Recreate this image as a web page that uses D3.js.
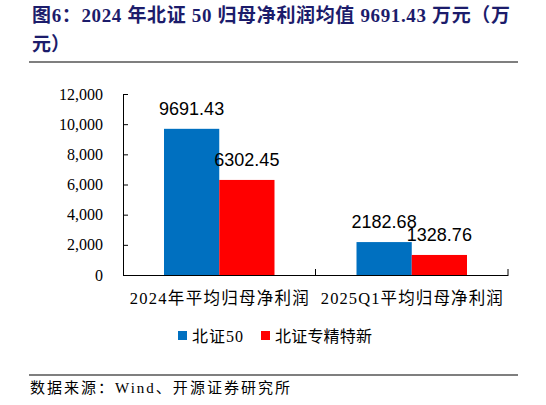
<!DOCTYPE html>
<html>
<head>
<meta charset="utf-8">
<script src="https://cdn.jsdelivr.net/npm/d3@7"></script>
<style>
  body { margin: 0; background: #fff; }
  svg { display: block; }
  .serif { font-family: "Liberation Serif", "Times New Roman", "Noto Sans CJK SC", serif; }
  .sans { font-family: "Liberation Sans", Calibri, "Noto Sans", sans-serif; }
</style>
</head>
<body>
<svg width="546" height="405"></svg>
<script>
var categories = ["2024年平均归母净利润", "2025Q1平均归母净利润"];
var seriesNames = ["北证50", "北证专精特新"];
var bz50 = [9691.43, 2182.68];
var zjtx = [6302.45, 1328.76];
var yTicks = [0, 2000, 4000, 6000, 8000, 10000, 12000];
var colors = ["#0070C0", "#FF0000"];

var svg = d3.select("svg");

// title
var title = svg.append("g").attr("class", "serif")
    .attr("fill", "#1c1c6b")
    .attr("font-weight", "bold")
    .attr("font-size", 19);
title.append("text").attr("x", 32).attr("y", 22)
    .attr("textLength", 478).attr("lengthAdjust", "spacing")
    .text("图6：2024 年北证 50 归母净利润均值 9691.43 万元（万");
title.append("text").attr("x", 32).attr("y", 51)
    .text("元）");

svg.append("line")
    .attr("x1", 29).attr("x2", 518)
    .attr("y1", 62).attr("y2", 62)
    .attr("stroke", "#000").attr("stroke-width", 1.2);

var x0 = d3.scaleBand().domain(categories).range([123, 508]).padding(0);
var x1 = d3.scaleBand().domain(seriesNames)
    .range([x0.bandwidth() * 0.213, x0.bandwidth() * 0.787]).padding(0);
var y = d3.scaleLinear().domain([0, 12000]).range([275, 94]);

// y axis
var yAxis = svg.append("g")
    .attr("transform", "translate(123,0)")
    .call(d3.axisLeft(y).tickValues(yTicks).tickSizeInner(-5).tickSizeOuter(0)
        .tickPadding(20).tickFormat(d3.format(",")));
yAxis.select(".domain").attr("stroke", "#000");
yAxis.selectAll(".tick line").attr("stroke", "#000");
yAxis.selectAll("text").attr("class", "serif")
    .attr("font-size", 16).attr("fill", "#000");

// x axis
var catWidths = [179, 182];
var xAxis = svg.append("g")
    .attr("transform", "translate(0,275)")
    .call(d3.axisBottom(x0).tickSize(0).tickPadding(17));
xAxis.select(".domain").attr("stroke", "#000");
xAxis.selectAll("text").attr("class", "serif")
    .attr("font-size", 16.5).attr("fill", "#000")
    .attr("textLength", (d, i) => catWidths[i]).attr("lengthAdjust", "spacing");
var bounds = [x0.range()[0] + x0.bandwidth(), x0.range()[1]];
xAxis.selectAll(".cat-tick").data(bounds).enter().append("line")
    .attr("x1", d => d).attr("x2", d => d)
    .attr("y1", 0).attr("y2", -6)
    .attr("stroke", "#000");

// bars
var rows = categories.map((c, i) => ({ cat: c, vals: [bz50[i], zjtx[i]] }));
var groups = svg.append("g").selectAll("g").data(rows).enter().append("g")
    .attr("transform", d => "translate(" + x0(d.cat) + ",0)");

groups.selectAll("rect")
    .data(d => d.vals.map((v, j) => ({ name: seriesNames[j], v: v, j: j })))
    .enter().append("rect")
    .attr("x", d => x1(d.name))
    .attr("width", x1.bandwidth())
    .attr("y", d => y(d.v))
    .attr("height", d => y(0) - y(d.v))
    .attr("fill", d => colors[d.j]);

groups.selectAll("text.val")
    .data(d => d.vals.map((v, j) => ({ name: seriesNames[j], v: v, j: j })))
    .enter().append("text")
    .attr("class", "sans")
    .attr("x", d => x1(d.name) + x1.bandwidth() / 2)
    .attr("y", d => y(d.v) - 14)
    .attr("text-anchor", "middle")
    .attr("font-size", 18)
    .attr("fill", "#000")
    .text(d => d.v.toFixed(2));

// legend
var legendX = [178, 261];
var legendW = [51, 97];
var legend = svg.append("g").selectAll("g").data(seriesNames).enter().append("g")
    .attr("transform", (d, i) => "translate(" + legendX[i] + ",331)");
legend.append("rect").attr("width", 9).attr("height", 9)
    .attr("fill", (d, i) => colors[i]);
legend.append("text").attr("class", "serif")
    .attr("x", 14).attr("y", 11)
    .attr("font-size", 16).attr("fill", "#000")
    .attr("textLength", (d, i) => legendW[i]).attr("lengthAdjust", "spacing")
    .text(d => d);

svg.append("line")
    .attr("x1", 29).attr("x2", 518)
    .attr("y1", 375).attr("y2", 375)
    .attr("stroke", "#000").attr("stroke-width", 1.2);

svg.append("text").attr("class", "serif")
    .attr("x", 30).attr("y", 393)
    .attr("font-size", 15).attr("fill", "#000")
    .attr("textLength", 260).attr("lengthAdjust", "spacing")
    .text("数据来源：Wind、开源证券研究所");
</script>
</body>
</html>
